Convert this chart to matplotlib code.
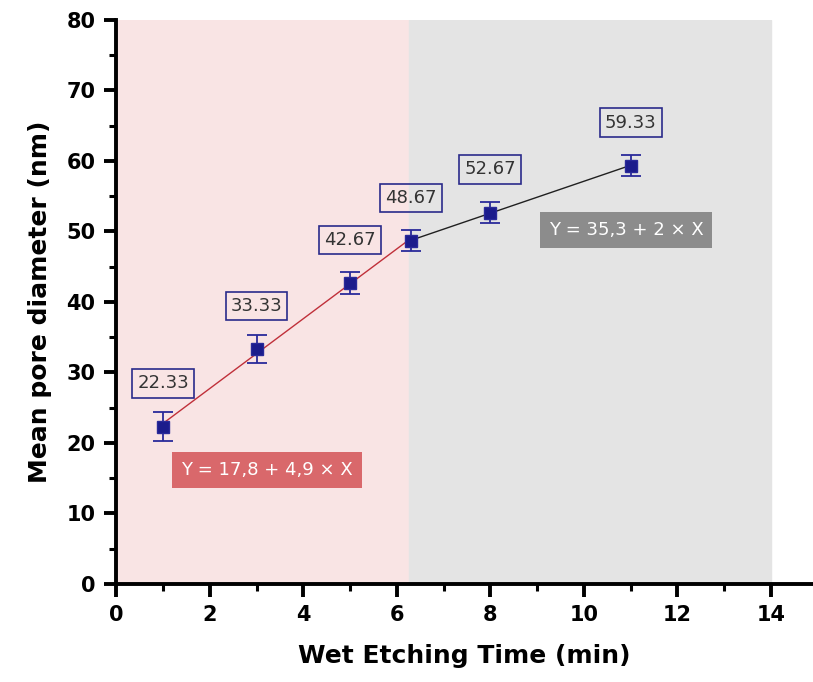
import matplotlib
matplotlib.use("Agg")
import matplotlib.pyplot as plt
from matplotlib.ticker import MultipleLocator
import numpy as np

# dados
tempo = [1, 3, 5, 6.3, 8, 11]
diametro = [22.33, 33.33, 42.67, 48.67, 52.67, 59.33]
erro = [2.0, 2.0, 1.5, 1.5, 1.5, 1.5]
rotulos = ["22.33", "33.33", "42.67", "48.67", "52.67", "59.33"]
limite_regiao = 6.25
fim_regiao = 14
eq1 = "Y = 17,8 + 4,9 × X"
eq2 = "Y = 35,3 + 2 × X"

plt.rcParams['font.family'] = ['DejaVu Sans']

fig = plt.figure(figsize=(8.13, 6.82), dpi=100)
ax = fig.add_axes([0.143, 0.1437, 0.857, 0.8273])

ax.axvspan(0, limite_regiao, color='#f9e4e4', zorder=0)
ax.axvspan(limite_regiao, fim_regiao, color='#e4e4e4', zorder=0)

# ajustes lineares
x1 = np.array(tempo[:4]); y1 = np.array(diametro[:4])
x2 = np.array(tempo[3:]); y2 = np.array(diametro[3:])
c1 = np.polyfit(x1, y1, 1)
c2 = np.polyfit(x2, y2, 1)
ax.plot(x1, np.polyval(c1, x1), color='#c0303a', lw=1.0, zorder=2)
ax.plot(x2, np.polyval(c2, x2), color='#202020', lw=1.0, zorder=2)

ax.errorbar(tempo, diametro, yerr=erro, fmt='s', color='#2a2a9a',
            markerfacecolor='#1c1c8c', markeredgecolor='#2a2a9a',
            markersize=8, ecolor='#2a2a9a', elinewidth=1.3,
            capsize=7, capthick=1.3, zorder=3)

for x, y, r in zip(tempo, diametro, rotulos):
    ax.annotate(r, (x, y), xytext=(0, 31), textcoords='offset points',
                ha='center', va='center', fontsize=13, color='#333333',
                bbox=dict(boxstyle='square,pad=0.28', fc='none',
                          ec='#2a2a8a', lw=1.2), zorder=4)

ax.text(3.23, 16.2, eq1, ha='center', va='center', fontsize=13,
        color='white',
        bbox=dict(boxstyle='square,pad=0.5', fc='#d9686b', ec='none'))
ax.text(10.9, 50.2, eq2, ha='center', va='center', fontsize=13,
        color='white',
        bbox=dict(boxstyle='square,pad=0.5', fc='#8c8c8c', ec='none'))

ax.set_xlim(0, 14.9)
ax.set_ylim(0, 80)
ax.xaxis.set_major_locator(MultipleLocator(2))
ax.xaxis.set_minor_locator(MultipleLocator(1))
ax.yaxis.set_major_locator(MultipleLocator(10))
ax.yaxis.set_minor_locator(MultipleLocator(5))

for s in ['top', 'right']:
    ax.spines[s].set_visible(False)
for s in ['left', 'bottom']:
    ax.spines[s].set_linewidth(2.8)

ax.tick_params(which='major', direction='out', length=9, width=2.8,
               labelsize=15, pad=6)
ax.tick_params(which='minor', direction='out', length=5, width=2.2)
for lbl in ax.get_xticklabels() + ax.get_yticklabels():
    lbl.set_fontweight('bold')

ax.set_xlabel('Wet Etching Time (min)', fontsize=18, fontweight='bold',
              labelpad=14)
ax.set_ylabel('Mean pore diameter (nm)', fontsize=18, fontweight='bold',
              labelpad=10)

plt.savefig("out.png", dpi=100)
